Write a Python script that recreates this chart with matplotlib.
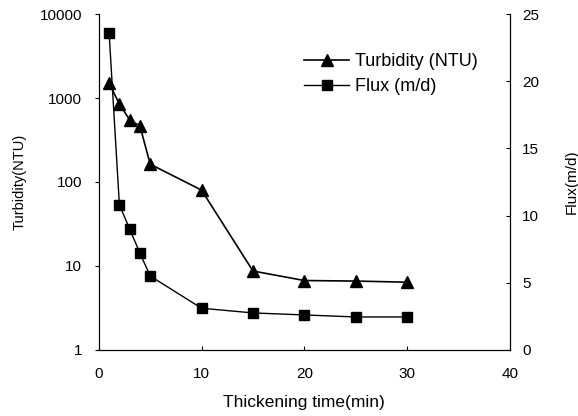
import matplotlib
matplotlib.use("Agg")
import matplotlib.pyplot as plt
from matplotlib.ticker import FixedLocator, NullLocator

plt.rcParams["font.family"] = ["Liberation Sans", "DejaVu Sans"]

time_min = [1, 2, 3, 4, 5, 10, 15, 20, 25, 30]
turbidity = [1500, 850, 550, 465, 163, 80, 8.7, 6.7, 6.6, 6.4]
flux = [23.6, 10.8, 9.0, 7.2, 5.5, 3.1, 2.75, 2.6, 2.45, 2.45]

fig = plt.figure(figsize=(5.78, 4.16), dpi=100)
ax = fig.add_axes([0.171, 0.159, 0.711, 0.807])
ax2 = ax.twinx()

l1, = ax.plot(time_min, turbidity, "k-", marker="^", markersize=8, lw=1.2,
              label="Turbidity (NTU)")
l2, = ax2.plot(time_min, flux, "k-", marker="s", markersize=7, lw=1.0,
               label="Flux (m/d)")

ax.set_yscale("log")
ax.set_ylim(1, 10000)
ax.set_xlim(0, 40)
ax.set_xticks([0, 10, 20, 30, 40])
ax.yaxis.set_major_locator(FixedLocator([1, 10, 100, 1000, 10000]))
ax.yaxis.set_minor_locator(NullLocator())
ax.set_yticklabels(["1", "10", "100", "1000", "10000"])
ax2.set_ylim(0, 25)
ax2.set_yticks([0, 5, 10, 15, 20, 25])

for a in (ax, ax2):
    a.spines["top"].set_visible(False)
ax.tick_params(axis="y", direction="out", length=3, labelsize=11, pad=9)
ax.tick_params(axis="x", direction="in", length=3, labelsize=11, pad=12)
ax2.tick_params(axis="y", direction="in", length=3, labelsize=11, pad=9)

ax.set_xlabel("Thickening time(min)", fontsize=12.5)
ax.set_ylabel("Turbidity(NTU)", fontsize=10.5)
ax2.set_ylabel("Flux(m/d)", fontsize=11)
ax.xaxis.set_label_coords(0.5, -0.134)
ax.yaxis.set_label_coords(-0.175, 0.5)
ax2.yaxis.set_label_coords(1.134, 0.5)

ax2.legend([l1, l2], [l1.get_label(), l2.get_label()], frameon=False,
           loc="upper left", bbox_to_anchor=(0.50, 0.884), fontsize=13,
           handlelength=2.5, handletextpad=0.3, labelspacing=0.45,
           borderpad=0, borderaxespad=0)

fig.savefig("out.png", dpi=100)
